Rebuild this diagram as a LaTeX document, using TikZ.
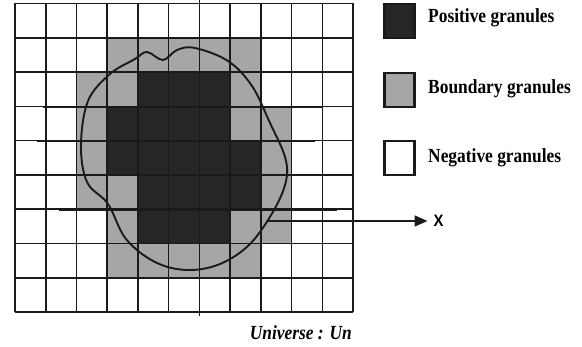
\documentclass[tikz,border=0pt]{standalone}
\usepackage{fontspec}
\setmainfont{Liberation Serif}
\setsansfont{Liberation Sans}
\usetikzlibrary{arrows.meta}
\definecolor{posfill}{HTML}{262626}
\definecolor{bndfill}{HTML}{A6A6A6}
\definecolor{inkcol}{HTML}{1A1A1A}
\begin{document}
\begin{tikzpicture}[x=1pt,y=-1pt,
  gridline/.style={line width=1.6pt, draw=inkcol},
  extraline/.style={line width=2.2pt, draw=inkcol},
  blobline/.style={line width=1.9pt, draw=inkcol},
  legbox/.style={draw=inkcol, line width=2.2pt, minimum width=30pt, minimum height=34pt, inner sep=0pt},
  legtext/.style={anchor=west, inner sep=0pt, font=\fontsize{20}{22}\selectfont\bfseries},
  arrowline/.style={line width=1.6pt, draw=inkcol, -{Triangle[length=13pt,width=11pt]}}]
\useasboundingbox (0,0) rectangle (582,347);
\def\gx{15}\def\gy{3.5}\def\cw{30.73}\def\ch{34.28}
% boundary cells
\foreach \r/\c in {1/3,1/4,1/5,1/6,1/7,
                   2/2,2/3,2/7,
                   3/2,3/7,3/8,
                   4/2,4/8,
                   5/2,5/3,5/8,
                   6/3,6/7,6/8,
                   7/3,7/4,7/5,7/6,7/7}
  \fill[bndfill] ({\gx+\c*\cw},{\gy+\r*\ch}) rectangle ++(\cw,\ch);
% positive cells
\foreach \r/\c in {2/4,2/5,2/6,
                   3/3,3/4,3/5,3/6,
                   4/3,4/4,4/5,4/6,4/7,
                   5/4,5/5,5/6,5/7,
                   6/4,6/5,6/6}
  \fill[posfill] ({\gx+\c*\cw},{\gy+\r*\ch}) rectangle ++(\cw,\ch);
% grid
\foreach \i in {0,...,11}
  \draw[gridline] ({\gx+\i*\cw},\gy) -- ++(0,{9*\ch});
\foreach \j in {0,...,9}
  \draw[gridline] (\gx,{\gy+\j*\ch}) -- ++({11*\cw},0);
% slightly heavier strokes seen in the original
\draw[extraline] (43,{\gy+3*\ch+0.5}) -- (322,{\gy+3*\ch+0.5});
\draw[extraline] (37,{\gy+4*\ch+0.5}) -- (315,{\gy+4*\ch+0.5});
\draw[extraline] (55,{\gy+5*\ch+0.5}) -- (333,{\gy+5*\ch+0.5});
\draw[extraline] (59,{\gy+6*\ch+0.5}) -- (337,{\gy+6*\ch+0.5});
\draw[gridline] ({\gx+6*\cw},0) -- ({\gx+6*\cw},316);
% the set boundary
\draw[blobline] plot[smooth cycle, tension=0.6] coordinates {
  (147,52) (163,60) (177,50) (195,48) (228,61) (252,86) (270,123)
  (285,157) (286,181) (274,210) (250,244) (220,264) (187,270) (155,262)
  (126,239) (108,204) (87,182) (81,145) (88,101) (110,74) (135,59)};
% arrow to X
\coordinate (arrowstart) at (268,221);
\node[anchor=west, inner sep=0pt, font=\sffamily\bfseries\fontsize{16.5}{18}\selectfont] (xlab) at (433.5,221) {\scalebox{0.9}[1]{X}};
\draw[arrowline] (arrowstart) -- ([xshift=-6pt]xlab.west);
% legend
\node[legbox, fill=posfill] (posbox) at (399.5,21) {};
\node[legbox, fill=bndfill] (bndbox) at (399.5,90) {};
\node[legbox, fill=white] (negbox) at (399.5,158) {};
\node[legtext] (postext) at (428,18) {\scalebox{0.87}[1]{Positive granules}};
\node[legtext] (bndtext) at (428,89) {\scalebox{0.87}[1]{Boundary granules}};
\node[legtext] (negtext) at (428,158) {\scalebox{0.87}[1]{Negative granules}};
% caption
\node[anchor=east, inner sep=0pt, font=\fontsize{20}{22}\selectfont\bfseries\itshape] (universe) at (352,333) {\scalebox{0.87}[1]{Universe : Un}};
\end{tikzpicture}
\end{document}
